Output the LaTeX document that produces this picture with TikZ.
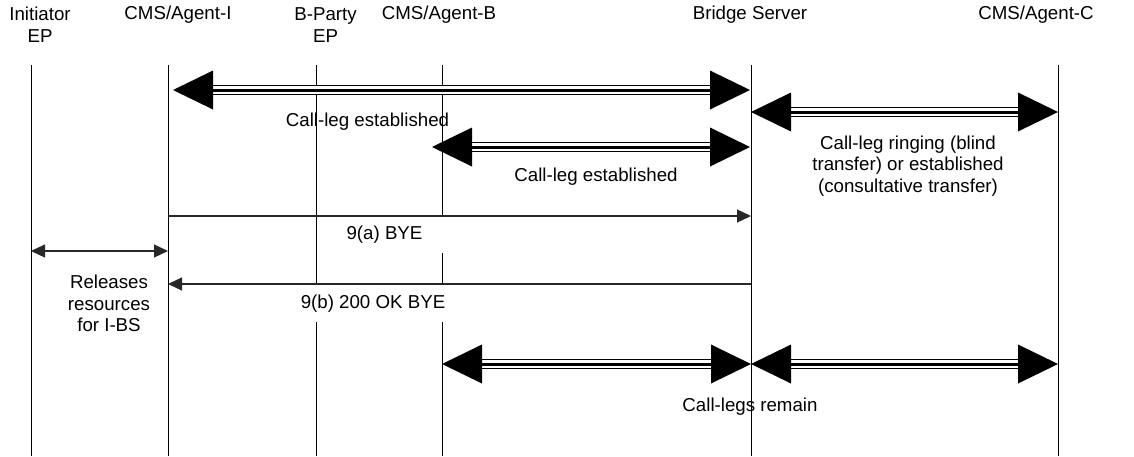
\documentclass[tikz,border=0pt]{standalone}
\usepackage{fontspec}
\setmainfont{Liberation Sans}
\usepackage{tikz}
\usetikzlibrary{arrows.meta, calc}
\definecolor{msgline}{RGB}{40, 40, 40}

\tikzset{
  txt/.style={font=\fontsize{18.7}{21.8}\selectfont, align=center, inner sep=0pt},
  lifeline/.style={line width=1pt},
  legout/.style={line width=9.5pt, shorten <=20pt, shorten >=20pt},
  leggap/.style={line width=7.5pt, white, shorten <=20pt, shorten >=20pt},
  legcore/.style={line width=3pt, shorten <=20pt, shorten >=20pt},
  msg/.style={line width=1.2pt, color=msgline},
  msgtip/.tip={Triangle[length=14pt, width=13pt]},
  gapbox/.style={txt, fill=white, minimum height=37pt}
}

\begin{document}
\begin{tikzpicture}[x=1pt, y=1pt]
  \useasboundingbox (0, 0) rectangle (1134, -456);

  \node[txt] (hini) at (40, -25) {Initiator\\EP};
  \node[txt] (hcmsi) at (178, -15) {CMS/Agent-I};
  \node[txt] (hbep) at (325.5, -25) {B-Party\\EP};
  \node[txt] (hcmsb) at (439, -15) {CMS/Agent-B};
  \node[txt] (hbs) at (750, -15) {Bridge Server};
  \node[txt] (hcmsc) at (1036, -15) {CMS/Agent-C};

  \coordinate (ini) at (31, -65);
  \coordinate (cmsi) at (168, -65);
  \coordinate (bep) at (316, -65);
  \coordinate (cmsb) at (442, -65);
  \coordinate (bs) at (751, -65);
  \coordinate (cmsc) at (1058, -65);

  \foreach \l in {ini, cmsi, bep, cmsb, bs, cmsc} {
    \draw[lifeline] (\l) -- (\l |- 0, -456);
  }

  \node[gapbox, minimum width=136pt] (bye) at (384.5, -234.5) {9(a) BYE};
  \node[gapbox, inner xsep=2pt] (ok) at (373, -303.5) {9(b) 200 OK BYE};

  % call legs
  \coordinate (a1l) at ([xshift=5pt]cmsi |- 0, -90);
  \coordinate (a1r) at ([xshift=-1pt]bs |- 0, -90);
  \coordinate (a2l) at (bs |- 0, -112);
  \coordinate (a2r) at (cmsc |- 0, -112);
  \coordinate (a3l) at ([xshift=-10pt]cmsb |- 0, -147);
  \coordinate (a3r) at ([xshift=-1pt]bs |- 0, -147);
  \coordinate (a4l) at (cmsb |- 0, -364);
  \coordinate (a4r) at (bs |- 0, -364);
  \coordinate (a5l) at (bs |- 0, -364);
  \coordinate (a5r) at (cmsc |- 0, -364);

  \foreach \l/\r in {a1l/a1r, a2l/a2r, a3l/a3r, a4l/a4r, a5l/a5r} {
    \draw[legout] (\l) -- (\r);
    \draw[leggap] (\l) -- (\r);
    \draw[legcore] (\l) -- (\r);
    \fill (\l) -- ++(40, 19.5) -- ++(0, -39) -- cycle;
    \fill (\r) -- ++(-40, 19.5) -- ++(0, -39) -- cycle;
  }

  \node[txt] (est1) at (367.5, -122) {Call-leg established};
  \node[txt] (est2) at (596, -177) {Call-leg established};
  \node[txt] (ring) at (908, -166) {Call-leg ringing (blind\\transfer) or established\\(consultative transfer)};

  % BYE exchange
  \draw[msg, -msgtip] (cmsi |- 0, -216) -- (bs |- 0, -216);
  \draw[msg, msgtip-msgtip] (ini |- 0, -251) -- (cmsi |- 0, -251);
  \draw[msg, -msgtip] (bs |- 0, -284) -- (cmsi |- 0, -284);

  \node[txt] (rel) at (109, -303.5) {Releases\\resources\\for I-BS};
  \node[txt] (remain) at (750, -407) {Call-legs remain};
\end{tikzpicture}
\end{document}
